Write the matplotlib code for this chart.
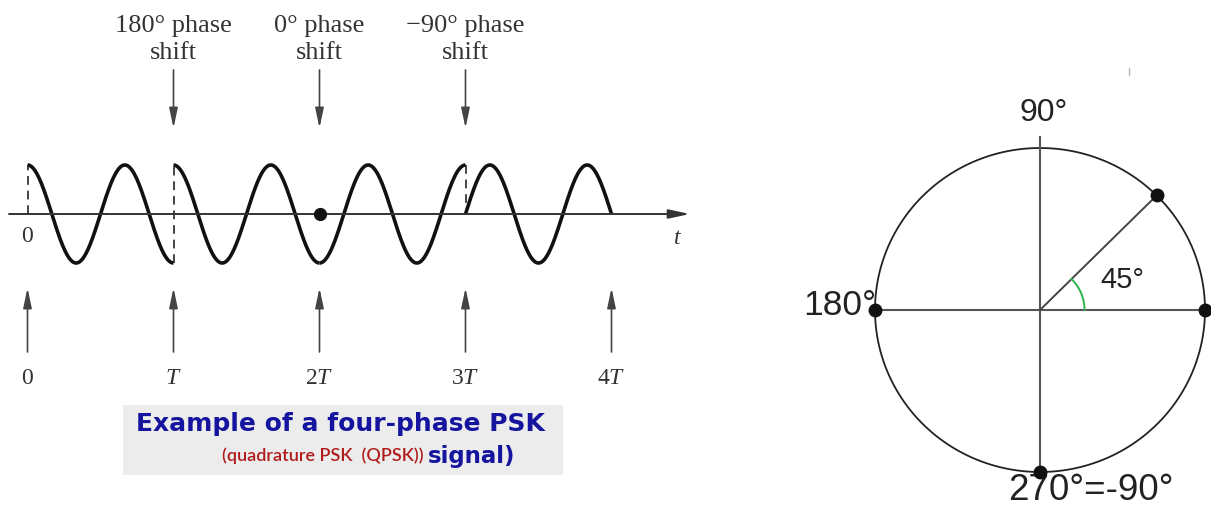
import numpy as np
import matplotlib
matplotlib.use("Agg")
import matplotlib.pyplot as plt

# --- data -------------------------------------------------------------
symbol_times = [0, 1, 2, 3, 4]                    # in units of T
time_labels = ["0", "$T$", "$2T$", "$3T$", "$4T$"]
shift_times = [1, 2, 3]
phase_shifts_deg = [180, 0, -90]                  # shift applied at T, 2T, 3T
shift_labels = [("180° phase", "shift"), ("0° phase", "shift"),
                ("\u221290° phase", "shift")]
cycles_per_symbol = 1.5

constellation_deg = [0, 45, 180, 270]
circle_labels = ["90°", "180°", "45°", "270°=-90°"]
arc_deg = 45

plt.rcParams["mathtext.fontset"] = "custom"
plt.rcParams["mathtext.rm"] = "Liberation Serif"
plt.rcParams["mathtext.it"] = "Liberation Serif:italic"

fig = plt.figure(figsize=(12.11, 5.08), dpi=100)

# --- left: QPSK waveform ---------------------------------------------
ax = fig.add_axes([0, 0, 700 / 1211, 1])
ax.set_xlim(-27.5 / 146, (700 - 27.5) / 146)
ax.set_ylim(-294 / 49, 214 / 49)
ax.axis("off")

serif = "Liberation Serif"
arrow_gray = "#444444"
head = "-|>,head_length=0.75,head_width=0.16"

# carrier phase in each symbol interval
phases = np.deg2rad(np.cumsum([0] + phase_shifts_deg))
w = 2 * np.pi * cycles_per_symbol

def carrier(t, ph):
    return np.cos(w * t + ph)

for k in range(len(phases)):
    t = np.linspace(symbol_times[k], symbol_times[k + 1], 300)
    ax.plot(t, carrier(t, phases[k]), color="#111111", lw=2.6,
            solid_capstyle="butt", zorder=3)

# dashed jumps / dot at the symbol boundaries
dash = dict(ls=(0, (4.5, 3)), color="#444444", lw=1.4, zorder=2)
ax.plot([0, 0], [0, carrier(0, phases[0])], **dash)
for k, tk in enumerate(shift_times):
    y0 = carrier(tk, phases[k])
    y1 = carrier(tk, phases[k + 1])
    if abs(y0 - y1) > 1e-6:
        ax.plot([tk, tk], [y0, y1], **dash)
    else:
        ax.plot(tk, 0, "o", color="#111111", ms=8.5, zorder=4)

# time axis with arrow
t_left, t_right = (9 - 27.5) / 146, (690 - 27.5) / 146
ax.annotate("", xy=(t_right, 0), xytext=(t_left, 0),
            arrowprops=dict(arrowstyle=head, color="#333333", lw=1.4,
                            mutation_scale=17, shrinkA=0, shrinkB=0))
ax.text(0, -0.45, "0", fontsize=17, family=serif, color="#333333",
        ha="center", va="center")
ax.text(4.455, -0.47, "$t$", fontsize=17, color="#333333",
        ha="center", va="center")

# phase-shift annotations
for tk, (l1, l2) in zip(shift_times, shift_labels):
    ax.text(tk, (214 - 26) / 49, l1, fontsize=19, family=serif,
            color="#333333", ha="center", va="center")
    ax.text(tk, (214 - 53) / 49, l2, fontsize=19, family=serif,
            color="#333333", ha="center", va="center")
    ax.annotate("", xy=(tk, 1.755), xytext=(tk, 2.94),
                arrowprops=dict(arrowstyle=head, color=arrow_gray, lw=1.2,
                                mutation_scale=16, shrinkA=0, shrinkB=0))

# symbol time markers
for tk, lab in zip(symbol_times, time_labels):
    ax.annotate("", xy=(tk, -1.51), xytext=(tk, -2.816),
                arrowprops=dict(arrowstyle=head, color=arrow_gray, lw=1.2,
                                mutation_scale=16, shrinkA=0, shrinkB=0))
    ax.text(tk, -3.35, lab, fontsize=17, family=serif, color="#333333",
            ha="center", va="center")

# caption box
blue = "#14149e"
red = "#b01c1c"
ax.add_patch(plt.Rectangle((0.654, -5.33), 3.668 - 0.654, 5.33 - 3.898,
                           facecolor="#ececec", edgecolor="none", zorder=1))
ax.text(2.14, -4.29, "Example of a four-phase PSK", fontsize=18,
        fontweight="bold", color=blue, family="DejaVu Sans",
        ha="center", va="center", zorder=2)
ax.text(2.71, -4.94, "(quadrature PSK  (QPSK))", fontsize=13, color=red,
        family="Lato", fontweight="semibold", ha="right", va="center", zorder=2)
ax.text(2.745, -4.94, "signal)", fontsize=16.5, fontweight="bold",
        color=blue, family="DejaVu Sans", ha="left", va="center", zorder=2)

# --- right: phase circle ---------------------------------------------
ax2 = fig.add_axes([760 / 1211, 0, 451 / 1211, 1])
ax2.set_xlim(-280 / 165, 171 / 165)
ax2.set_ylim(-198 / 162, 310 / 162)
ax2.axis("off")

th = np.linspace(0, 2 * np.pi, 400)
ax2.plot(np.cos(th), np.sin(th), color="#222222", lw=1.3)
ax2.plot([-1, 1], [0, 0], color="#555555", lw=1.5)
ax2.plot([0, 0], [-1, 1.068], color="#555555", lw=1.5)

rad = np.deg2rad(arc_deg)
ax2.plot([0, np.cos(rad)], [0, np.sin(rad)], color="#444444", lw=1.4)
arc = np.linspace(0, rad, 60)
ax2.plot(0.27 * np.cos(arc), 0.27 * np.sin(arc), color="#2db34c", lw=1.4)

pts = np.deg2rad(constellation_deg)
ax2.plot(np.cos(pts), np.sin(pts), "o", color="#111111", ms=9, zorder=4)

sans = "Liberation Sans"
ax2.text(0.024, 1.216, circle_labels[0], fontsize=23, family=sans,
         color="#222222", ha="center", va="center")
ax2.text(-0.99, 0.03, circle_labels[1], fontsize=25.5, family=sans,
         color="#222222", ha="right", va="center")
ax2.text(0.497, 0.185, circle_labels[2], fontsize=21, family=sans,
         color="#222222", ha="center", va="center")
ax2.text(0.31, -1.115, circle_labels[3], fontsize=26.5, family=sans,
         color="#222222", ha="center", va="center")
ax2.plot([0.539, 0.539], [1.45, 1.494], color="#bbbbbb", lw=1)

fig.savefig("out.png", dpi=100)
